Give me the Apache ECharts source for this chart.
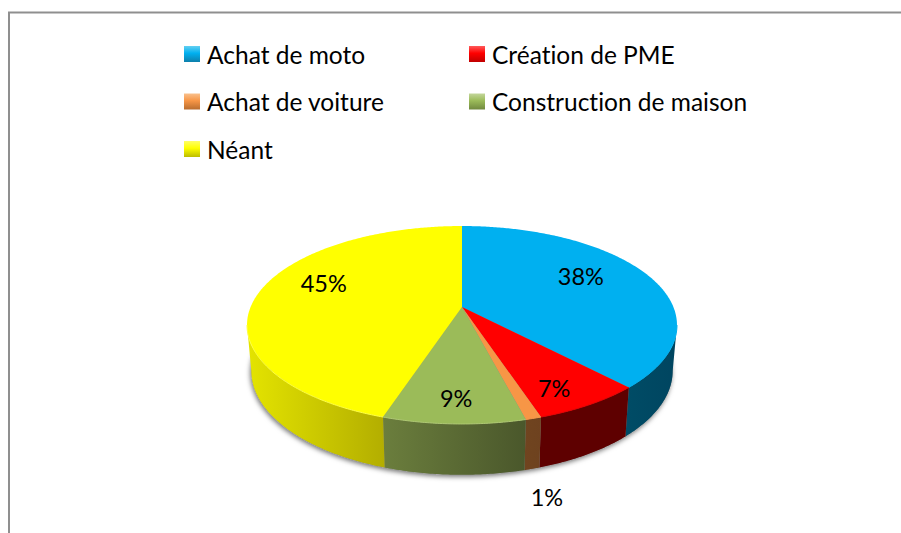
<!DOCTYPE html>
<html>
<head>
<meta charset="utf-8">
<style>html,body{margin:0;padding:0;background:#fff}#c{width:901px;height:533px}
svg text{font-variant-ligatures:none;font-feature-settings:"liga" 0,"clig" 0}</style>
<script src="https://cdn.jsdelivr.net/npm/echarts@6/dist/echarts.min.js"></script>
</head>
<body>
<div id="c"></div>
<script>
const categories = ['Achat de moto', 'Création de PME', 'Achat de voiture', 'Construction de maison', 'Néant'];
const values = [38, 7, 1, 9, 45];
const percentLabels = ['38%', '7%', '1%', '9%', '45%'];
const topColors = ['#00B0F0', '#FF0000', '#F79646', '#9BBB59', '#FFFF00'];
const rimColors = ['#00B0F0', '#E60000', '#F79646', '#AEC872', '#FFFF40'];
const wallLeft = ['#004C66', '#5E0000', '#70441F', '#6B7E3D', '#E4E400'];
const wallRight = ['#004560', '#5E0000', '#6E421F', '#4A572B', '#B3AE00'];
const iconTop = ['#63D0F2', '#FF5A5A', '#F9C08C', '#C3D69B', '#FFFF66'];
const iconBottom = ['#0E7FAB', '#C00000', '#B96D2F', '#71893F', '#BDBD00'];

const VIEW = { cx: 462, cy: 307, a: 211.4, b: 95.7, k: 0.1818, depth: 45, baseScaleX: 0.98, baseScaleY: 1.05 };
const LABEL_PLACE = [
  { r: 0.63, dy: -10 }, { r: 0.755, dy: 10.5 }, { r: 1.15, dy: 58 }, { r: 0.76, dy: 7 }, { r: 0.675, dy: -14 }
];
const total = values.reduce((s, v) => s + v, 0);
const TAU = Math.PI * 2;

function project(angle, r, onBase) {
  const u = Math.sin(angle) * r, v = Math.cos(angle) * r, w = 1 + VIEW.k * v;
  const x = VIEW.a * u / w, y = -VIEW.b * v / w;
  return onBase
    ? [VIEW.cx + x * VIEW.baseScaleX, VIEW.cy + y * VIEW.baseScaleY + VIEW.depth]
    : [VIEW.cx + x, VIEW.cy + y];
}
function arc(from, to, onBase) {
  const n = Math.max(2, Math.ceil((to - from) / 0.01));
  const pts = [];
  for (let i = 0; i <= n; i++) pts.push(project(from + (to - from) * i / n, 1, onBase));
  return pts;
}
const frontFrom = Math.acos(-VIEW.k), frontTo = TAU - frontFrom;

function makeRender(idx) {
  return function (params, api) {
    const before = values.slice(0, idx).reduce((s, v) => s + v, 0);
    const start = before / total * TAU;
    const end = start + api.value(0) / total * TAU;
    const children = [];
    if (idx === 0) {
      children.push({
        type: 'polygon', z2: 1,
        shape: { points: arc(0, TAU, true) },
        style: { fill: '#888', shadowColor: 'rgba(0,0,0,0.55)', shadowBlur: 5, shadowOffsetY: 2, shadowOffsetX: -1 }
      });
    }
    const wFrom = Math.max(start, frontFrom), wTo = Math.min(end, frontTo);
    if (wTo > wFrom) {
      children.push({
        type: 'polygon', z2: 2,
        shape: { points: arc(wFrom, wTo, false).concat(arc(wFrom, wTo, true).reverse()) },
        style: {
          fill: new echarts.graphic.LinearGradient(0, 0, 1, 0, [
            { offset: 0, color: wallLeft[idx] }, { offset: 1, color: wallRight[idx] }
          ])
        }
      });
    }
    children.push({
      type: 'polygon', z2: 3,
      shape: { points: [project(0, 0, false)].concat(arc(start, end, false)) },
      style: { fill: topColors[idx] }
    });
    if (wTo > wFrom) {
      children.push({
        type: 'polyline', z2: 4,
        shape: { points: arc(wFrom, wTo, false) },
        style: { fill: 'none', stroke: rimColors[idx], lineWidth: 1 }
      });
    }
    const mid = (start + end) / 2, place = LABEL_PLACE[idx];
    const p = project(mid, place.r, false);
    children.push({
      type: 'text', z2: 5,
      style: {
        text: percentLabels[idx], x: p[0], y: p[1] + place.dy,
        fill: '#000', font: '23.5px Lato', align: 'center', verticalAlign: 'middle'
      }
    });
    return { type: 'group', children };
  };
}

function legendEntry(name) {
  const i = categories.indexOf(name);
  return {
    name,
    icon: 'rect',
    itemStyle: {
      color: new echarts.graphic.LinearGradient(0, 0, 0, 1, [
        { offset: 0, color: iconTop[i] }, { offset: 0.45, color: topColors[i] }, { offset: 1, color: iconBottom[i] }
      ]),
      borderWidth: 0
    }
  };
}
const legendBase = {
  orient: 'vertical', itemWidth: 16, itemHeight: 16, itemGap: 18.5, padding: 0, selectedMode: false,
  textStyle: { fontFamily: 'Lato', fontSize: 24.5, color: '#000', padding: [0, 0, 2, 2], lineHeight: 27 }
};

const chart = echarts.init(document.getElementById('c'), null, { renderer: 'svg' });
chart.setOption({
  animation: false,
  backgroundColor: '#fff',
  graphic: [{
    type: 'rect', silent: true,
    shape: { x: 9, y: 12.5, width: 1000, height: 1000 },
    style: { fill: 'transparent', stroke: '#8f8f8f', lineWidth: 2 }
  }],
  legend: [
    Object.assign({}, legendBase, { left: 184, top: 39.5, data: [categories[0], categories[2], categories[4]].map(legendEntry) }),
    Object.assign({}, legendBase, { left: 469, top: 39.5, data: [categories[1], categories[3]].map(legendEntry) })
  ],
  series: categories.map((name, i) => ({
    type: 'custom', name, coordinateSystem: 'none',
    itemStyle: { color: topColors[i] },
    renderItem: makeRender(i),
    data: [[values[i]]]
  }))
});
</script>
</body>
</html>
